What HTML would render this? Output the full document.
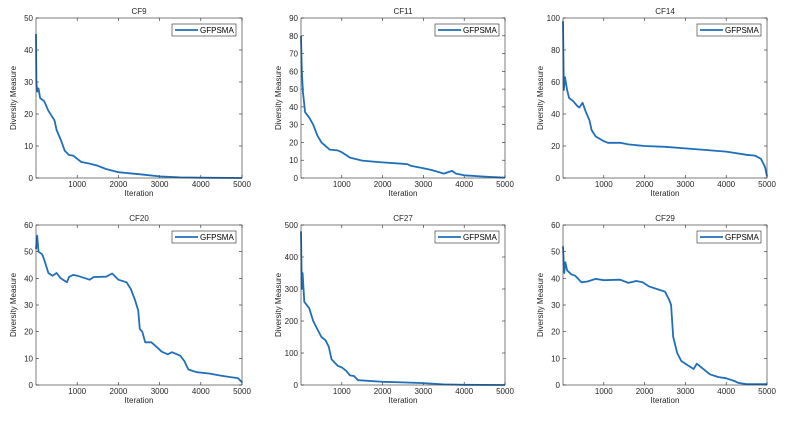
<!DOCTYPE html>
<html><head><meta charset="utf-8"><style>
body{margin:0;background:#fff;}
svg{display:block;font-family:"Liberation Sans",sans-serif;}
</style></head><body>
<svg id="fig" width="788" height="422" viewBox="0 0 788 422" xmlns="http://www.w3.org/2000/svg"></svg>
<script>
const titles=["CF9","CF11","CF14","CF20","CF27","CF29"];
const yMaxes=[50,90,100,60,500,60];
const yStepsArr=[10,10,20,10,100,10];
const xTicks=[1000,2000,3000,4000,5000];
const cf9X=[0,10,30,60,100,200,300,400,450,500,600,700,800,900,1000,1100,1300,1500,1700,2000,2500,3000,3500,4000,5000];
const cf9Y=[45,30,27,28,25,24,21,19,18,15,12,8.5,7.2,7,6,5,4.5,3.8,2.8,1.8,1.2,0.5,0.2,0.1,0];
const cf11X=[0,20,50,100,200,300,400,500,700,900,1000,1200,1500,2000,2500,2600,2700,3000,3200,3500,3700,3800,4000,4500,5000];
const cf11Y=[80,60,48,37,34,30,24,20,16,15.5,14.5,11.5,9.8,8.8,8,7.8,6.8,5.5,4.5,2.5,4,2.5,1.5,0.8,0.2];
const cf14X=[0,20,50,100,150,250,350,400,480,550,650,700,800,1000,1100,1400,1600,2000,2500,3000,3500,4000,4500,4700,4850,4950,5000];
const cf14Y=[98,55,63,55,50,48,45,44,47,42,36,30,26,23,22,22,21,20,19.5,18.5,17.5,16.5,14.5,14,12,7,1];
const cf20X=[0,30,60,150,200,300,400,500,600,750,800,900,1000,1200,1300,1400,1700,1850,2000,2200,2300,2400,2480,2520,2580,2650,2800,2950,3050,3200,3300,3500,3600,3700,3900,4200,4500,4700,4900,5000];
const cf20Y=[51,56,50,49,47,42,41,42,40,38.5,40.5,41.3,41,40,39.5,40.5,40.6,41.8,39.5,38.5,36,32,28,21,20,16,16,14,12.5,11.5,12.3,11,9,5.8,4.8,4.3,3.5,3,2.6,1];
const cf27X=[0,20,40,80,200,300,400,500,600,680,750,900,1000,1100,1200,1300,1400,2000,2500,3000,3500,4000,5000];
const cf27Y=[480,300,350,260,240,200,175,150,140,120,80,60,55,45,30,28,15,10,8,6,2,0.5,0];
const cf29X=[0,30,60,100,200,300,450,600,800,1000,1400,1600,1800,1950,2100,2300,2500,2600,2650,2700,2800,2900,3000,3200,3280,3400,3600,3800,4000,4200,4300,4500,5000];
const cf29Y=[52,42,46,43,41.5,41,38.5,38.8,39.8,39.3,39.5,38.3,39,38.5,37,36,35,32,30,18,12,9,8,6,8,6.5,4,3,2.5,1.5,0.8,0.3,0.3];
const seriesX=[cf9X,cf11X,cf14X,cf20X,cf27X,cf29X];
const seriesY=[cf9Y,cf11Y,cf14Y,cf20Y,cf27Y,cf29Y];

const NS="http://www.w3.org/2000/svg";
const svg=document.getElementById('fig');
const lefts=[36,301,563];
const widths=[206,204,204];
const tops=[18,225];
const H=160;
function mk(tag,attrs,parent){const e=document.createElementNS(NS,tag);for(const k in attrs)e.setAttribute(k,attrs[k]);parent.appendChild(e);return e;}
for(let i=0;i<6;i++){
  const L=lefts[i%3],W=widths[i%3],T=tops[Math.floor(i/3)];
  const g=mk('g',{},svg);
  
  
  const xs=v=>L+v/5000*W;
  const ys=v=>T+H-v/yMaxes[i]*H;
  const t=mk('text',{x:L+W/2,y:T-4,'text-anchor':'middle','font-size':8,fill:'#262626'},g);
  t.textContent=titles[i];
  
  
  for(let v=0;v<=yMaxes[i];v+=yStepsArr[i]){
    const y=ys(v);
    mk('line',{x1:L,x2:L+3,y1:y,y2:y,stroke:'#262626','stroke-width':0.6},g);
    mk('line',{x1:L+W,x2:L+W-3,y1:y,y2:y,stroke:'#262626','stroke-width':0.6},g);
    const tl=mk('text',{x:L-3,y:y+3,'text-anchor':'end','font-size':8,fill:'#262626'},g);
    tl.textContent=v;
    
    
  }
  xTicks.forEach(v=>{
    const x=xs(v);
    mk('line',{x1:x,x2:x,y1:T+H,y2:T+H-3,stroke:'#262626','stroke-width':0.6},g);
    mk('line',{x1:x,x2:x,y1:T,y2:T+3,stroke:'#262626','stroke-width':0.6},g);
    const tl=mk('text',{x:x,y:T+H+9,'text-anchor':'middle','font-size':8,fill:'#262626'},g);
    tl.textContent=v;
    
    
  });
  const xl=mk('text',{x:L+W/2,y:T+H+18,'text-anchor':'middle','font-size':8,fill:'#262626'},g);
  xl.textContent='Iteration';
  
  
  const yl=mk('text',{x:0,y:0,'text-anchor':'middle','font-size':8,fill:'#262626',transform:`translate(${L-20},${T+H/2}) rotate(-90)`},g);
  yl.textContent='Diversity Measure';
  
  
  const pts=seriesX[i].map((x,k)=>xs(x).toFixed(1)+','+ys(seriesY[i][k]).toFixed(1)).join(' ');
  const pl=mk('polyline',{points:pts,fill:'none',stroke:'#1f6fba','stroke-width':1.8,'stroke-linejoin':'round'},g);
  
  
  const bx=mk('rect',{x:L,y:T,width:W,height:H,fill:'none',stroke:'#262626','stroke-width':0.6},g);
  
  
  const lg=mk('g',{},g);
  
  
  const lx=L+W-70,ly=T+6;
  mk('rect',{x:lx,y:ly,width:64,height:12,fill:'#fff',stroke:'#262626','stroke-width':0.6},lg);
  mk('line',{x1:lx+3,x2:lx+26,y1:ly+6,y2:ly+6,stroke:'#1f6fba','stroke-width':1.8},lg);
  const lt=mk('text',{x:lx+28,y:ly+9,'font-size':8,fill:'#000'},lg);
  lt.textContent='GFPSMA';
  
  
}
</script>
</body></html>
